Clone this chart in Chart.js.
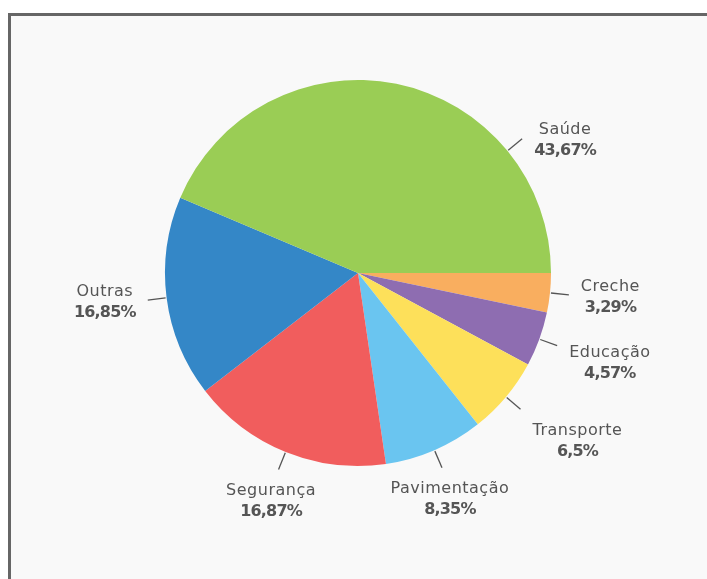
<!DOCTYPE html>
<html>
<head>
<meta charset="utf-8">
<script src="https://cdn.jsdelivr.net/npm/chart.js@4.4.0/dist/chart.umd.min.js"></script>
<style>
  body { margin: 0; background: #ffffff; overflow: hidden; }
  .frame {
    position: absolute; left: 8px; top: 13px; width: 720px; height: 600px;
    border: 3px solid #666666; background: #f9f9f9;
  }
  #wrap { position: absolute; left: 0; top: 0; width: 707px; height: 579px; }
</style>
</head>
<body>
<div class="frame"></div>
<div id="wrap"><canvas id="chartPie"></canvas></div>
<script>
// drawn clockwise starting at 3 o'clock
const categories = ["Creche", "Educação", "Transporte", "Pavimentação", "Segurança", "Outras", "Saúde"];
const shares = [3.29, 4.57, 6.5, 8.35, 16.87, 16.85, 43.67];
const sliceColors = ["#f9ae5f", "#8e6db1", "#fde05a", "#6ac5f0", "#f15d5d", "#3487c7", "#9acd55"];

const nameFont = "16px 'DejaVu Sans'";
const pctFont = "bold 16px 'DejaVu Sans'";

function fmtPct(v) {
  return String(v).replace(".", ",") + "%";
}

const outerLabels = {
  id: "outerLabels",
  afterDatasetsDraw(chart) {
    const ctx = chart.ctx;
    const meta = chart.getDatasetMeta(0);
    ctx.save();
    meta.data.forEach((arc, i) => {
      const p = arc.getProps(["x", "y", "startAngle", "endAngle", "outerRadius"], true);
      const span = p.endAngle - p.startAngle;
      // big slice gets its label nearer the 3 o'clock side
      const ang = span > Math.PI * 0.7 ? p.endAngle - span / 4 : (p.startAngle + p.endAngle) / 2;
      const c = Math.cos(ang), s = Math.sin(ang);
      const x1 = p.x + c * (p.outerRadius + 1), y1 = p.y + s * (p.outerRadius + 1);
      const x2 = p.x + c * (p.outerRadius + 19), y2 = p.y + s * (p.outerRadius + 19);
      ctx.strokeStyle = "#555555";
      ctx.lineWidth = 1.3;
      ctx.beginPath();
      ctx.moveTo(x1, y1);
      ctx.lineTo(x2, y2);
      ctx.stroke();

      const name = categories[i];
      const pct = fmtPct(shares[i]);
      ctx.letterSpacing = "0.5px";
      ctx.font = nameFont;
      const w1 = ctx.measureText(name).width;
      ctx.letterSpacing = "-0.8px";
      ctx.font = pctFont;
      const w2 = ctx.measureText(pct).width;
      const hw = Math.max(w1, w2) / 2;
      let cx;
      if (Math.abs(c) > 0.5) {
        cx = x2 + Math.sign(c) * (hw + 12);
      } else {
        cx = x2 + c * 20;
      }
      const cy = y2 + 2 + Math.min(1, Math.max(0, s - 0.14) * 2.5) * 30;
      ctx.textAlign = "center";
      ctx.textBaseline = "middle";
      ctx.fillStyle = "#555555";
      ctx.letterSpacing = "0.5px";
      ctx.font = nameFont;
      ctx.fillText(name, cx, cy - 10.5);
      ctx.letterSpacing = "-0.8px";
      ctx.font = pctFont;
      ctx.fillText(pct, cx, cy + 10.5);
    });
    ctx.restore();
  },
};

const ctx = document.getElementById("chartPie").getContext("2d");
new Chart(ctx, {
  type: "pie",
  data: {
    labels: categories,
    datasets: [
      {
        data: shares,
        backgroundColor: sliceColors,
        borderWidth: 0,
      },
    ],
  },
  options: {
    responsive: true,
    maintainAspectRatio: false,
    animation: false,
    rotation: 90,
    layout: { padding: { top: 80, bottom: 113, left: 165, right: 156 } },
    plugins: {
      legend: { display: false },
      tooltip: { enabled: false },
    },
  },
  plugins: [outerLabels],
});
</script>
</body>
</html>
